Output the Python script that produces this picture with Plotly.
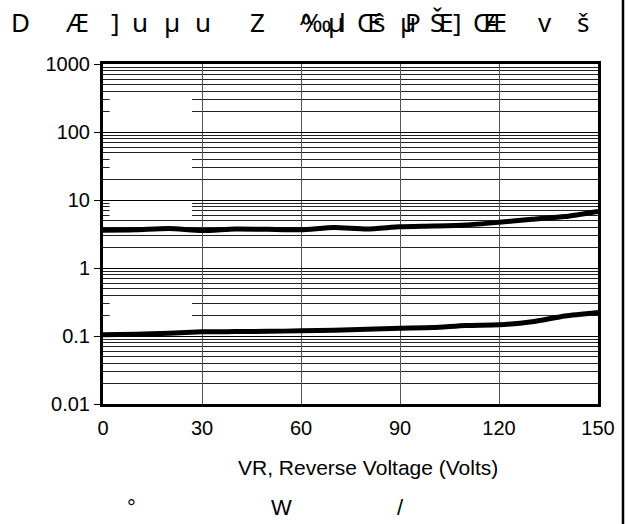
import plotly.graph_objects as go

# ---- data ----
voltage = [0, 10, 20, 30, 40, 50, 60, 70, 80, 90, 100, 110, 120, 130, 140, 150]
curve_high = [3.6, 3.65, 3.8, 3.55, 3.75, 3.7, 3.65, 3.95, 3.75, 4.05, 4.15, 4.3, 4.7, 5.2, 5.7, 6.8]
curve_low = [0.104, 0.106, 0.110, 0.115, 0.116, 0.117, 0.119, 0.122, 0.126, 0.130, 0.133, 0.143, 0.146, 0.162, 0.197, 0.222]
x_ticks = [0, 30, 60, 90, 120, 150]
y_ticks = [0.01, 0.1, 1, 10, 100, 1000]
y_tick_text = ["0.01", "0.1", "1", "10", "100", "1000"]
x_title = "VR, Reverse Voltage (Volts)"
# garbled title glyphs as they appear in the reference
title_glyphs = ["D", "Æ", "]", "u", "µ", "u", "Z", "^", "‰", "µ", "l", "Œ", "ŝ", "µ", "P", "Š", "E", "]", "Œ", "Æ", "v", "š"]
caption_glyphs = ["°", "W", "/"]

# ---- layout helpers ----
W, H = 629, 524
L, R, T, B = 103, 31, 64, 120
PW, PH = W - L - R, H - T - B


def px(xp):
    return (xp - L) / PW


def py(yp):
    return (H - B - yp) / PH


title_x = [20, 77, 115, 140, 172, 203, 257, 306, 316, 336, 342, 369, 379, 408, 413, 437, 446, 457, 485, 495, 545, 583]
caption_x = [131, 281, 400]

fig = go.Figure()
for ys in (curve_high, curve_low):
    fig.add_trace(go.Scatter(x=voltage, y=ys, mode="lines",
                             line=dict(color="black", width=5, shape="spline", smoothing=0.6),
                             showlegend=False, hoverinfo="skip"))

annotations = []
for g, xx in zip(title_glyphs, title_x):
    annotations.append(dict(text=g, x=px(xx), y=py(22), xref="paper", yref="paper",
                            xanchor="center", yanchor="middle", showarrow=False,
                            font=dict(family="Noto Sans", size=26, color="black")))
for g, xx in zip(caption_glyphs, caption_x):
    annotations.append(dict(text=g, x=px(xx), y=py(507), xref="paper", yref="paper",
                            xanchor="center", yanchor="middle", showarrow=False,
                            font=dict(family="Liberation Sans", size=22, color="black")))
annotations.append(dict(text=x_title, x=px(368), y=py(467), xref="paper", yref="paper",
                        xanchor="center", yanchor="middle", showarrow=False,
                        font=dict(family="Liberation Sans", size=21, color="black")))

shapes = [
    # page border line at right
    dict(type="line", xref="paper", yref="paper", x0=px(623), x1=px(623), y0=py(0), y1=py(524),
         line=dict(color="black", width=2.5), layer="above"),
]
# white gaps in some grid lines (as in the reference)
for y0, y1 in [(170, 340), (27, 45), (5.4, 9.6), (0.17, 0.34)]:
    shapes.append(dict(type="rect", xref="x", yref="y", x0=2, x1=27, y0=y0, y1=y1,
                       fillcolor="white", line=dict(width=0), layer="between"))

fig.update_layout(
    width=W, height=H, autosize=False,
    margin=dict(l=L, r=R, t=T, b=B, pad=0),
    paper_bgcolor="white", plot_bgcolor="white",
    annotations=annotations, shapes=shapes,
    font=dict(family="Liberation Sans", size=20, color="black"),
)
fig.update_xaxes(range=[0, 150], tickvals=x_ticks, ticks="", showgrid=True,
                 gridcolor="#555555", gridwidth=1, zeroline=False,
                 showline=True, linecolor="black", linewidth=3, mirror=True,
                 tickfont=dict(size=20), ticklabelstandoff=4)
fig.update_yaxes(type="log", range=[-2, 3], tickvals=y_ticks, ticktext=y_tick_text,
                 ticks="outside", ticklen=6, tickcolor="black", tickwidth=1,
                 showgrid=True, gridcolor="black", gridwidth=1, zeroline=False,
                 showline=True, linecolor="black", linewidth=3, mirror=True,
                 tickfont=dict(size=20),
                 minor=dict(dtick="D1", showgrid=True, gridcolor="#222222", gridwidth=1, ticks=""))

fig.write_html("out.html", config={"displayModeBar": False},
               post_script="document.body.style.margin='0';document.body.style.overflow='hidden';")
